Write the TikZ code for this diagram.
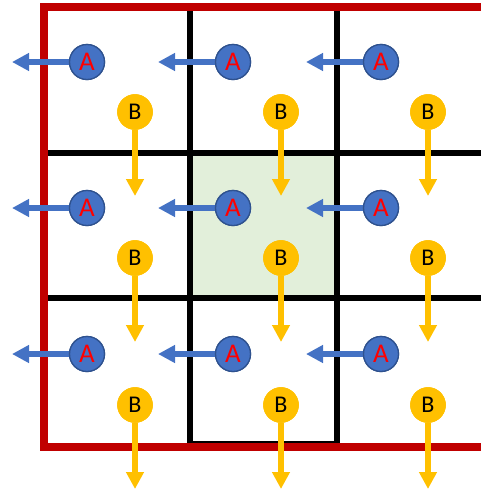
\documentclass[tikz,border=0pt]{standalone}
\usepackage{fontspec}
\setmainfont{Carlito}
\usetikzlibrary{arrows.meta}
\definecolor{ablue}{HTML}{4472C4}
\definecolor{aborder}{HTML}{2F528F}
\definecolor{byellow}{HTML}{FFC000}
\definecolor{gridred}{HTML}{C00000}
\definecolor{cellgreen}{HTML}{E2EFDA}
\begin{document}
\begin{tikzpicture}[x=1pt,y=-1pt,
  acirc/.style={circle, fill=ablue, draw=aborder, line width=1.3pt, minimum size=35pt, inner sep=0pt, text=red, font=\fontsize{27}{27}\selectfont},
  bcirc/.style={circle, fill=byellow, draw=byellow, line width=0.5pt, minimum size=35pt, inner sep=0pt, text=black, font=\fontsize{24}{24}\selectfont},
  aarrow/.style={draw=ablue, line width=5.5pt, -{Triangle[length=17pt,width=17pt]}},
  barrow/.style={draw=byellow, line width=5.5pt, -{Triangle[length=17pt,width=17pt]}},
  gridline/.style={draw=black, line width=6pt},
  redline/.style={draw=gridred, line width=8pt, line join=miter}]
\useasboundingbox (0,0) rectangle (481,493);
% green centre cell
\fill[cellgreen] (190,153) rectangle (337,298);
% black grid
\draw[gridline] (190,7) -- (190,447);
\draw[gridline] (337,7) -- (337,447);
\draw[gridline] (44,153) -- (481,153);
\draw[gridline] (44,298) -- (481,298);
\draw[draw=black, line width=2pt] (190,441.5) -- (337,441.5);
% red border
\draw[redline] (481,7) -- (44,7) -- (44,447) -- (481,447);
% A circles and arrows
\foreach \ax [count=\i] in {87,233,381} {
  \foreach \ay [count=\j] in {62,208,354} {
    \coordinate (ta\i\j) at (\ax-75,\ay);
    \node[acirc] (a\i\j) at (\ax,\ay) {A};
    \draw[aarrow] (a\i\j.west) -- (ta\i\j);
    \node[acirc] at (a\i\j) {A};
  }
}
% B circles and arrows
\foreach \bx [count=\i] in {135,281,428} {
  \foreach \by [count=\j] in {112,258,405} {
    \coordinate (tb\i\j) at (\bx,\by+84);
    \node[bcirc] (b\i\j) at (\bx,\by) {B};
    \draw[barrow] (b\i\j.south) -- (tb\i\j);
    \node[bcirc] at (b\i\j) {B};
  }
}
\end{tikzpicture}
\end{document}
